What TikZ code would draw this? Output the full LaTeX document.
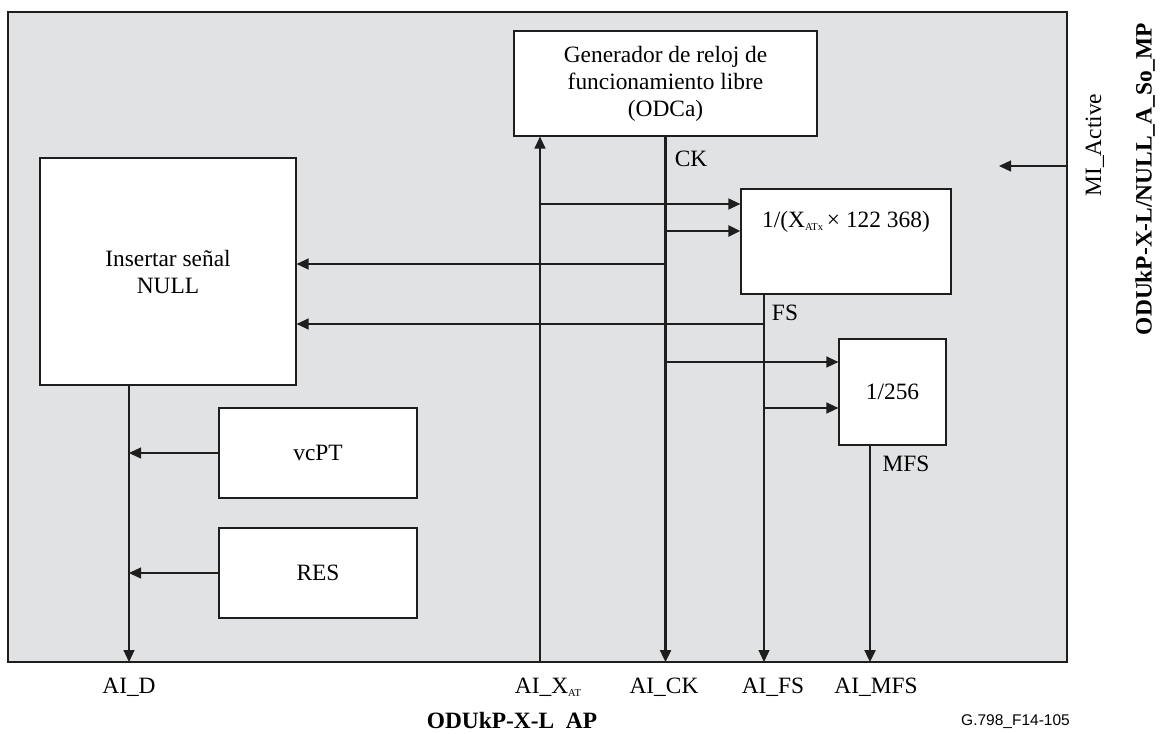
\documentclass[tikz,border=0pt]{standalone}
\usepackage{fontspec}
\setmainfont{Liberation Serif}
\newfontfamily\arialfont{Liberation Sans}
\usetikzlibrary{arrows.meta,calc}
\definecolor{bgc}{RGB}{225,226,228}
\definecolor{linec}{RGB}{30,30,30}
\newcommand\tsub[1]{\raisebox{-0.3ex}{\fontsize{10.5}{10.5}\selectfont #1}}
\begin{document}
\begin{tikzpicture}[x=1pt,y=-1pt,
  every node/.style={font=\fontsize{23.4}{27}\selectfont},
  blk/.style={draw=linec, fill=white, line width=1.2pt, inner sep=0pt, align=center},
  conn/.style={draw=linec, line width=1.3pt},
  arr/.style={conn, -{Triangle[length=12pt,width=11pt]}},
  thk/.style={line width=2.4pt},
  lbl/.style={inner sep=0pt},
  boldlbl/.style={inner sep=0pt, font=\fontsize{23.4}{27}\selectfont\bfseries},
]
\useasboundingbox (0,0) rectangle (1160,734);
\node[draw=linec, fill=bgc, line width=1.2pt, minimum width=1059pt, minimum height=650pt, inner sep=0pt] (frame) at (537.5,337) {};

\node[blk, minimum width=303pt, minimum height=105pt] (odca) at (665.5,83.5) {Generador de reloj de\\funcionamiento libre\\(ODCa)};
\node[blk, minimum width=256pt, minimum height=227pt] (ins) at (168,271.5) {Insertar señal\\NULL};
\node[blk, minimum width=210pt, minimum height=105pt] (div) at (846,241.5) {};
\node[lbl] (divtxt) at (846,222) {1/(X\tsub{ATx}\,× 122~368)};
\node[blk, minimum width=107pt, minimum height=106pt] (d256) at (892.5,392) {1/256};
\node[blk, minimum width=198pt, minimum height=90pt] (vcpt) at (318,453) {vcPT};
\node[blk, minimum width=198pt, minimum height=90pt] (res) at (318,573) {RES};

\coordinate (pD) at (129,662);
\coordinate (pX) at (540,662);
\coordinate (pCK) at (665.5,662);
\coordinate (pFS) at (764,662);
\coordinate (pMFS) at (870,662);
\coordinate (mi) at (999,166);
\coordinate (bX1) at (540,204);
\coordinate (bCK1) at (665.5,231);
\coordinate (bCK2) at (665.5,264);
\coordinate (bCK3) at (665.5,362);
\coordinate (bFS1) at (764,324);
\coordinate (bFS2) at (764,408);
\coordinate (bD1) at (129,453);
\coordinate (bD2) at (129,573);

\draw[arr] (pX) -- (pX |- odca.south);
\draw[arr,thk] (odca.south) -- (pCK);
\draw[arr] (bX1) -- (bX1 -| div.west);
\draw[arr,thk] (bCK1) -- (bCK1 -| div.west);
\draw[arr] (bCK2) -- (bCK2 -| ins.east);
\draw[arr] (bFS1) -- (bFS1 -| ins.east);
\draw[arr] (bCK3) -- (bCK3 -| d256.west);
\draw[arr] (bFS2) -- (bFS2 -| d256.west);
\draw[arr] (pFS |- div.south) -- (pFS);
\draw[arr,thk] (pMFS |- d256.south) -- (pMFS);
\draw[arr] (pD |- ins.south) -- (pD);
\draw[arr] (vcpt.west) -- (bD1);
\draw[arr] (res.west) -- (bD2);
\draw[arr] (frame.east |- mi) -- (mi);

\node[lbl] (ck) at (691,159) {CK};
\node[lbl] (fs) at (785,313) {FS};
\node[lbl] (mfs) at (906,464) {MFS};
\node[lbl] (lD) at (129,687) {AI\_D};
\node[lbl] (lX) at (548,687) {AI\_X\tsub{AT}};
\node[lbl] (lCK) at (664,687) {AI\_CK};
\node[lbl] (lFS) at (773,687) {AI\_FS};
\node[lbl] (lMFS) at (876,687) {AI\_MFS};
\node[boldlbl] (ap) at (512,720) {ODUkP-X-L\hphantom{\_}AP};
\node[lbl, font=\arialfont\fontsize{15.5}{18}\selectfont, anchor=east] (fig) at (1070,722) {G.798\_F14-105};
\node[lbl, rotate=90] (mia) at (1095,145) {MI\_Active};
\node[boldlbl, rotate=90] (sp) at (1145,179) {ODUkP-X-L/NULL\_A\_So\_MP};
\end{tikzpicture}
\end{document}
